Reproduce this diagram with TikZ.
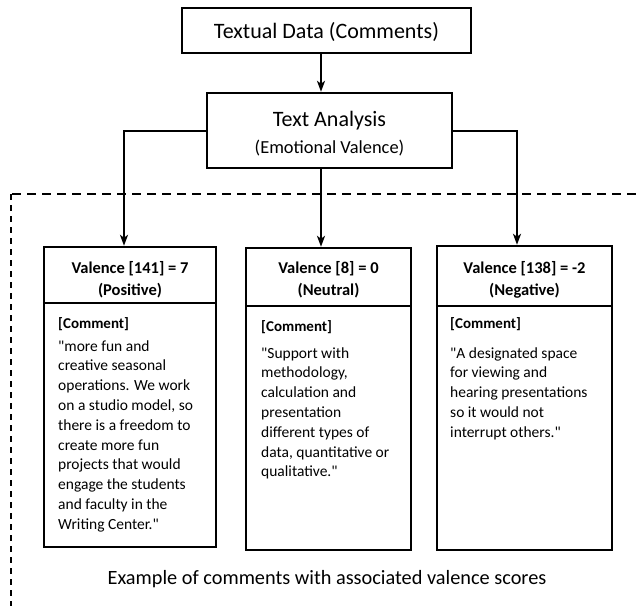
\documentclass[tikz,border=0pt]{standalone}
\usepackage{fontspec}
\setmainfont{Carlito}[Ligatures=TeXOff]
\usetikzlibrary{arrows.meta}

\begin{document}
\begin{tikzpicture}[x=1pt,y=-1pt,
  frame/.style={draw=black, line width=2.4pt, inner sep=0pt, fill=white},
  conn/.style={draw=black, line width=2pt},
  tip/.style={-{Stealth[length=11pt,width=8pt,inset=3pt]}},
  divider/.style={draw=black, line width=1.5pt},
  dashline/.style={draw=black, line width=1.3pt},
  headtext/.style={inner sep=0pt, anchor=base, align=center,
    font=\fontsize{16.5}{22}\selectfont\bfseries},
  tagtext/.style={inner sep=0pt, anchor=base west,
    font=\fontsize{15}{19.8}\selectfont\bfseries},
  bodytext/.style={inner sep=0pt, anchor=base west, align=left,
    font=\fontsize{15.5}{19.8}\selectfont},
]
\useasboundingbox (0,0) rectangle (638,606);
\fill[white] (0,0) rectangle (638,606);

% dashed frame around the examples (open to the right and bottom)
\draw[dashline, dash pattern=on 9pt off 6pt] (12,194) -- (638,194);
\draw[dashline, dash pattern=on 6pt off 5pt] (11,194) -- (11,606);

% top boxes
\node[frame, minimum width=289pt, minimum height=45pt] (td) at (326.5,30.5) {};
\node[inner sep=0pt, anchor=base, font=\fontsize{22}{26}\selectfont] (td-t) at (326.5,38) {Textual Data (Comments)};

\node[frame, minimum width=245pt, minimum height=75pt] (ta) at (329.5,130.5) {};
\node[inner sep=0pt, anchor=base, font=\fontsize{22}{26}\selectfont] (ta-t1) at (329.5,126) {Text Analysis};
\node[inner sep=0pt, anchor=base, font=\fontsize{18.4}{22}\selectfont] (ta-t2) at (329.5,153) {(Emotional Valence)};

% example boxes
\node[frame, minimum width=172pt, minimum height=300pt] (pos) at (130,397) {};
\node[frame, minimum width=165pt, minimum height=302pt] (neu) at (328.5,399) {};
\node[frame, minimum width=175pt, minimum height=304pt] (neg) at (524.5,398) {};

\draw[divider] (pos.west |- 0,303) -- (pos.east |- 0,303);
\draw[divider] (neu.west |- 0,306) -- (neu.east |- 0,306);
\draw[divider] (neg.west |- 0,306) -- (neg.east |- 0,306);

% connectors
\draw[conn, tip] ([xshift=-5.5pt]td.south) -- ([xshift=-8.5pt]ta.north);
\draw[conn, tip] (ta.west) -| ([xshift=-6pt]pos.north);
\draw[conn, tip] ([xshift=-8.5pt]ta.south) -- ([xshift=-7.5pt]neu.north);
\draw[conn, tip] (ta.east) -| ([xshift=-7.5pt]neg.north);

% headers (base anchor sits on the last line)
\node[headtext] (pos-h) at (130,295) {Valence [141] = 7\\(Positive)};
\node[headtext] (neu-h) at (328.5,295) {Valence [8] = 0\\(Neutral)};
\node[headtext] (neg-h) at (524.5,295) {Valence [138] = -2\\(Negative)};

% comments (base anchor sits on the last line)
\node[tagtext] (pos-c) at (58,328) {[Comment]};
\node[bodytext] (pos-b) at (58,529.2) {"more fun and\\creative seasonal\\operations. We work\\on a studio model, so\\there is a freedom to\\create more fun\\projects that would\\engage the students\\and faculty in the\\Writing Center."};

\node[tagtext] (neu-c) at (261,331) {[Comment]};
\node[bodytext] (neu-b) at (261,476.8) {"Support with\\methodology,\\calculation and\\presentation\\different types of\\data, quantitative or\\qualitative."};

\node[tagtext] (neg-c) at (450,328) {[Comment]};
\node[bodytext] (neg-b) at (450,437.2) {"A designated space\\for viewing and\\hearing presentations\\so it would not\\interrupt others."};

% caption
\node[inner sep=0pt, anchor=base, font=\fontsize{20.3}{24}\selectfont] (cap) at (327,584) {Example of comments with associated valence scores};
\end{tikzpicture}
\end{document}
